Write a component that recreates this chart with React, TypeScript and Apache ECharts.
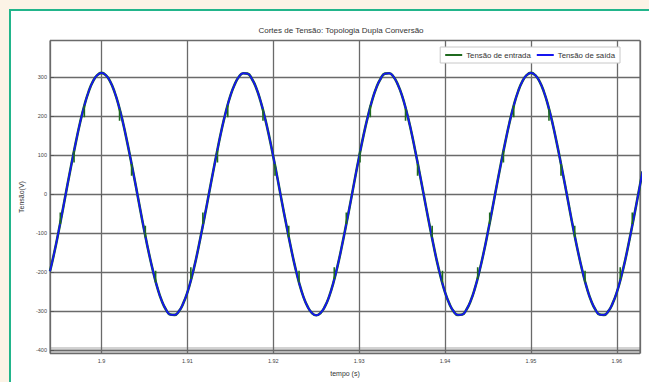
import React, { useEffect, useRef } from 'react';
import * as echarts from 'echarts';

// sample times (s), every 0.5 ms
const timeSeconds = [
  1.8940, 1.8945, 1.8950, 1.8955, 1.8960, 1.8965, 1.8970, 1.8975, 1.8980, 1.8985,
  1.8990, 1.8995, 1.9000, 1.9005, 1.9010, 1.9015, 1.9020, 1.9025, 1.9030, 1.9035,
  1.9040, 1.9045, 1.9050, 1.9055, 1.9060, 1.9065, 1.9070, 1.9075, 1.9080, 1.9085,
  1.9090, 1.9095, 1.9100, 1.9105, 1.9110, 1.9115, 1.9120, 1.9125, 1.9130, 1.9135,
  1.9140, 1.9145, 1.9150, 1.9155, 1.9160, 1.9165, 1.9170, 1.9175, 1.9180, 1.9185,
  1.9190, 1.9195, 1.9200, 1.9205, 1.9210, 1.9215, 1.9220, 1.9225, 1.9230, 1.9235,
  1.9240, 1.9245, 1.9250, 1.9255, 1.9260, 1.9265, 1.9270, 1.9275, 1.9280, 1.9285,
  1.9290, 1.9295, 1.9300, 1.9305, 1.9310, 1.9315, 1.9320, 1.9325, 1.9330, 1.9335,
  1.9340, 1.9345, 1.9350, 1.9355, 1.9360, 1.9365, 1.9370, 1.9375, 1.9380, 1.9385,
  1.9390, 1.9395, 1.9400, 1.9405, 1.9410, 1.9415, 1.9420, 1.9425, 1.9430, 1.9435,
  1.9440, 1.9445, 1.9450, 1.9455, 1.9460, 1.9465, 1.9470, 1.9475, 1.9480, 1.9485,
  1.9490, 1.9495, 1.9500, 1.9505, 1.9510, 1.9515, 1.9520, 1.9525, 1.9530, 1.9535,
  1.9540, 1.9545, 1.9550, 1.9555, 1.9560, 1.9565, 1.9570, 1.9575, 1.9580, 1.9585,
  1.9590, 1.9595, 1.9600, 1.9605, 1.9610, 1.9615, 1.9620, 1.9625, 1.9630,
];

// output voltage (V) – blue
const outputVolts = [
  -198, -150, -96, -39, 20, 77, 132, 183, 227, 263,
  289, 305, 311, 305, 289, 263, 227, 183, 132, 77,
  20, -39, -96, -150, -198, -240, -273, -296, -309, -310,
  -301, -281, -252, -213, -167, -114, -58, 0, 58, 114,
  167, 213, 252, 281, 301, 310, 309, 296, 273, 240,
  198, 150, 96, 39, -20, -77, -132, -183, -227, -263,
  -289, -305, -311, -305, -289, -263, -227, -183, -132, -77,
  -20, 39, 96, 150, 198, 240, 273, 296, 309, 310,
  301, 281, 252, 213, 167, 114, 58, 0, -58, -114,
  -167, -213, -252, -281, -301, -310, -309, -296, -273, -240,
  -198, -150, -96, -39, 20, 77, 132, 183, 227, 263,
  289, 305, 311, 305, 289, 263, 227, 183, 132, 77,
  20, -39, -96, -150, -198, -240, -273, -296, -309, -310,
  -301, -281, -252, -213, -167, -114, -58, 0, 58,
];

// input voltage (V) – green, follows the output except for the cuts
const inputVolts = [
  -198, -150, -96, -39, 20, 77, 132, 183, 227, 263,
  289, 305, 311, 305, 289, 263, 227, 183, 132, 77,
  20, -39, -96, -150, -198, -240, -273, -296, -309, -310,
  -301, -281, -252, -213, -167, -114, -58, 0, 58, 114,
  167, 213, 252, 281, 301, 310, 309, 296, 273, 240,
  198, 150, 96, 39, -20, -77, -132, -183, -227, -263,
  -289, -305, -311, -305, -289, -263, -227, -183, -132, -77,
  -20, 39, 96, 150, 198, 240, 273, 296, 309, 310,
  301, 281, 252, 213, 167, 114, 58, 0, -58, -114,
  -167, -213, -252, -281, -301, -310, -309, -296, -273, -240,
  -198, -150, -96, -39, 20, 77, 132, 183, 227, 263,
  289, 305, 311, 305, 289, 263, 227, 183, 132, 77,
  20, -39, -96, -150, -198, -240, -273, -296, -309, -310,
  -301, -281, -252, -213, -167, -114, -58, 0, 58,
];

// voltage cuts on the input (time, value before cut, value at cut bottom)
const notchTimes = [
  1.8952, 1.8968, 1.8980, 1.9021, 1.9035, 1.9051, 1.9063, 1.9104, 1.9118,
  1.9135, 1.9147, 1.9188, 1.9202, 1.9218, 1.9230, 1.9271, 1.9285,
  1.9301, 1.9313, 1.9354, 1.9368, 1.9385, 1.9397, 1.9438, 1.9452,
  1.9468, 1.9480, 1.9521, 1.9535, 1.9551, 1.9563, 1.9604, 1.9618,
];
const notchFrom = [
  -77, 111, 227, 218, 77, -111, -227, -218, -77,
  111, 227, 218, 77, -111, -227, -218, -77,
  111, 227, 218, 77, -111, -227, -218, -77,
  111, 227, 218, 77, -111, -227, -218, -77,
];
const notchTo = [
  -47, 81, 197, 188, 47, -81, -197, -188, -47,
  81, 197, 188, 47, -81, -197, -188, -47,
  81, 197, 188, 47, -81, -197, -188, -47,
  81, 197, 188, 47, -81, -197, -188, -47,
];

const seriesNames = ['Tensão de entrada', 'Tensão de saída'];
const titleText = 'Cortes de Tensão: Topologia Dupla Conversão';
const xName = 'tempo (s)';
const yName = 'Tensão(V)';

const FONT = '"Liberation Sans", Arial, Helvetica, sans-serif';
const GREEN = '#1f6a1f';
const BLUE = '#1515f0';

export default function App() {
  const ref = useRef<HTMLDivElement>(null);
  useEffect(() => {
    document.body.style.margin = '0';
    const chart = echarts.init(ref.current!, null, { renderer: 'svg' });
    const outData = timeSeconds.map((t, i) => [t, outputVolts[i]]);
    const inData = timeSeconds.map((t, i) => [t, inputVolts[i]]);
    const notchData: any[] = [];
    notchTimes.forEach((t, i) => {
      notchData.push([t, notchFrom[i]]);
      notchData.push([t, notchTo[i]]);
      notchData.push([t, '-']);
    });
    chart.setOption({
      animation: false,
      backgroundColor: 'transparent',
      textStyle: { fontFamily: FONT },
      title: {
        text: titleText,
        left: 341,
        top: 26,
        textAlign: 'center',
        padding: 0,
        textStyle: { fontSize: 8, fontWeight: 'normal', color: '#333', fontFamily: FONT },
      },
      legend: {
        data: seriesNames,
        right: 29,
        top: 47,
        icon: 'rect',
        itemWidth: 17,
        itemHeight: 2,
        itemGap: 6,
        padding: [4, 5],
        backgroundColor: '#fff',
        borderColor: '#c8c8c8',
        borderWidth: 1,
        textStyle: { fontSize: 7.8, color: '#333', fontFamily: FONT, padding: [0, 0, 0, -1] },
      },
      grid: {
        left: 50,
        right: 9,
        top: 40.5,
        bottom: 28.5,
        show: true,
        borderColor: '#555',
        borderWidth: 1,
      },
      graphic: [
        {
          type: 'rect',
          z: -1,
          shape: { x: 50, y: 347, width: 590, height: 6.5 },
          style: { fill: '#d2d2d2' },
        },
      ],
      xAxis: {
        type: 'value',
        min: 1.894,
        max: 1.9627,
        splitNumber: 7,
        name: xName,
        nameLocation: 'middle',
        nameGap: 16,
        nameTextStyle: { fontSize: 7, color: '#333', fontFamily: FONT },
        axisLine: { show: false },
        axisTick: { show: true, inside: false, length: 3, lineStyle: { color: '#555' } },
        axisLabel: {
          fontSize: 5.5,
          color: '#444',
          margin: 4,
          showMinLabel: false,
          showMaxLabel: false,
          formatter: (v: number) => String(Number(v.toFixed(2))),
        },
        splitLine: { show: true, lineStyle: { color: '#6a6a6a', width: 1.3 } },
      },
      yAxis: {
        type: 'value',
        min: -409,
        max: 394,
        splitNumber: 8,
        name: yName,
        nameLocation: 'middle',
        nameGap: 20,
        nameRotate: 90,
        nameTextStyle: { fontSize: 7, color: '#333', fontFamily: FONT },
        axisLine: { show: false },
        axisTick: { show: true, inside: true, length: 4, lineStyle: { color: '#555' } },
        axisLabel: {
          fontSize: 5.5,
          color: '#444',
          margin: 3,
          showMinLabel: false,
          showMaxLabel: false,
        },
        splitLine: { show: true, lineStyle: { color: '#6a6a6a', width: 1.3 } },
      },
      series: [
        {
          name: seriesNames[0],
          type: 'line',
          data: inData,
          smooth: true,
          showSymbol: false,
          symbol: 'none',
          color: GREEN,
          lineStyle: { color: GREEN, width: 2.6 },
          z: 2,
        },
        {
          name: seriesNames[1],
          type: 'line',
          data: outData,
          smooth: true,
          showSymbol: false,
          symbol: 'none',
          color: BLUE,
          lineStyle: { color: BLUE, width: 1.8 },
          z: 3,
        },
        {
          name: seriesNames[0],
          type: 'line',
          data: notchData,
          smooth: false,
          showSymbol: false,
          symbol: 'none',
          connectNulls: false,
          color: GREEN,
          lineStyle: { color: GREEN, width: 1.6 },
          z: 4,
        },
      ],
    });
    return () => chart.dispose();
  }, []);
  return (
    <div style={{ position: 'fixed', left: 0, top: 0, width: 649, height: 382, background: '#fcf3e6', overflow: 'hidden' }}>
      <div
        style={{
          position: 'absolute',
          left: 9,
          top: 9,
          width: 700,
          height: 450,
          background: '#fff',
          border: '2px solid #22b58b',
          boxSizing: 'border-box',
        }}
      />
      <div ref={ref} style={{ position: 'absolute', left: 0, top: 0, width: 649, height: 382 }} />
    </div>
  );
}
